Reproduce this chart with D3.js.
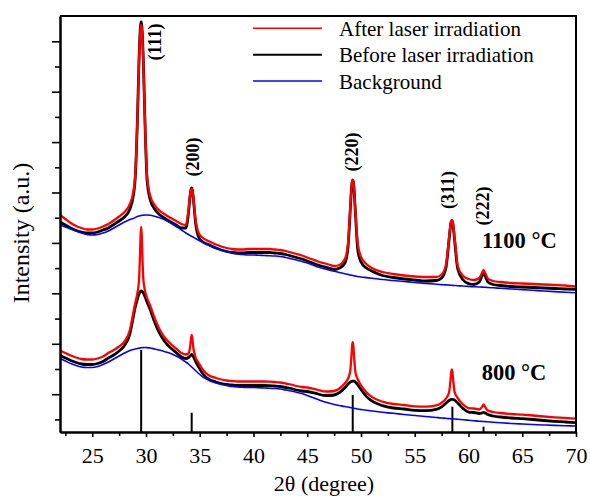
<!DOCTYPE html>
<html><head><meta charset="utf-8">
<script src="https://cdn.jsdelivr.net/npm/d3@7"></script>
<style>body{margin:0;background:#fff}svg{display:block}text{font-family:"Liberation Serif","Times New Roman",serif}</style>
</head><body>
<script>
// 2θ grid (degree)
const theta = [22,22.5,23,23.5,24,24.5,25,25.5,26,26.5,27,27.5,28,28.5,
 28.8,29.0,29.2,29.35,29.45,29.5,29.55,29.6,29.65,29.75,29.9,30.1,30.4,30.8,31.2,31.7,32.3,32.8,33.3,33.7,
 33.95,34.1,34.2,34.25,34.3,34.4,34.6,34.9,35.3,35.8,
 36.5,37,37.5,38,38.5,39,39.5,40,40.5,41,41.5,42,42.5,43,43.5,44,44.5,45,45.5,46,46.5,47,47.5,48,
 48.5,48.8,49.0,49.12,49.18,49.23,49.29,49.35,49.5,49.7,50.0,50.5,51,
 52,53,54,55,56,57,
 57.5,57.9,58.2,58.35,58.4,58.45,58.5,58.55,58.7,59.0,59.5,60,60.5,61,
 61.25,61.4,61.55,61.8,62.3,
 63,64,65,66,67,68,69,70];

// 1100 °C
const background1100 = [207,205,203,201,199,197.5,197,197.5,199,201,204,207,210,212.5,
 213.5,214.5,215.5,216,216.3,216.4,216.5,216.6,216.7,216.8,217,217,216.7,215.7,214.5,212.5,209,205.5,202,199,
 197.5,196.5,196,195.7,195.4,194.8,193.5,191.7,189.5,187,
 184,182,180.5,179,178,177.5,177,177,176.7,176.5,176.3,176,175.5,174.5,173.3,172,170.5,169,167,165,163.5,162,160.7,159.5,
 158.3,157.6,157,156.8,156.6,156.5,156.3,156.2,155.9,155.5,155,154.4,153.8,
 152.5,151.5,150.5,149.5,148.6,147.8,
 147.4,147.1,146.9,146.8,146.75,146.7,146.65,146.6,146.5,146.3,146,145.6,145.3,145,
 144.9,144.8,144.7,144.5,144.2,
 143.7,143,142.4,141.7,141,140.4,139.8,139.3];
const before1100 = [210,207,204,201.5,200,199,199,200,202,204,207.5,211,215,223,
 235,254,312,372,400,407,410,407,400,372,312,252,232,223,218,214,210,207,204,204,
 219,236,243,244,242.5,234,210,195,190,187.5,
 184,182,180.5,179.5,179,179,179.5,179.5,179.5,179.5,179.5,179,178.5,177.5,176,174.5,173,171,169,167,165.5,164,162.5,164,
 169,186,222,244,250,252,250,243,215,182,170,164,161,
 156.5,154.5,153,152,151,151.5,
 154,164,193,208,210.5,211,210.5,208,192.5,163,152,148.5,147.5,150,
 156,159.5,156,150,147.5,
 146.5,145.5,145,144.5,144,143.5,143,142.7];
const after1100 = [217,213,209,206,204,202.5,202.5,203.5,205.5,208,211.5,215.5,220,228,
 239,257,312,370,397,404,407,404,397,370,312,256,236,227,222,218,214,211,208,207,
 222,237,242,243,242,235,213,199,194,191,
 187.5,185.5,184,183,182.5,182.5,183,183,183,183,183,182.5,182,181,179.5,178,176.5,174.5,172.5,170.5,169,167.5,166,167,
 173,189,224,245,251,252,250.5,244,217,188,175,168,164,
 160,158,156.5,155.5,155,155,
 157.5,167,195,209,211,212,211,209,195,166,156,153,152,154,
 159,162,159,153.5,151,
 150,149,148.5,148,147.5,147,146.5,145.5];

// 800 °C
const background800 = [73.5,71,68.5,66.5,65,64.5,64.5,65.5,67.5,70,73,76,79,81.5,
 82.5,83,83.5,83.8,84,84.1,84.2,84.25,84.3,84.4,84.5,84.4,84,83,82,80.5,78.5,76,73,70,
 68,66.5,65.5,65,64.5,63.5,61.5,58.5,55,52,
 49,47.5,46.5,45.5,45,44.7,44.5,44.5,44.3,44,43.8,43.5,43,42,41,39.7,38.5,36.5,34.5,32.5,30.5,29,27.5,26.5,
 25.5,25,24.5,24.3,24.15,24,23.9,23.8,23.5,23,22.5,21.7,21,
 19.7,18.7,17.5,16.5,15.5,14.5,
 14,13.7,13.4,13.3,13.25,13.2,13.15,13.1,13,12.7,12.3,11.8,11.3,10.8,
 10.6,10.5,10.4,10.2,9.8,
 9.2,8.5,8,7.5,7,6.6,6.3,6];
const before800 = [76.5,74,71.5,69.5,68,67.5,67.5,68.5,70.5,74,77,81,86.5,98,
 114,125,133,138,140,140.7,141,140.8,140.4,139,135.5,130,122,110,100,91,84,79.5,75,73.5,
 74.5,76,77,77.5,77,75.5,71,65,58,53,
 50,48.5,47.5,47,46.5,46.5,46.5,46.5,46.5,46.5,46.3,46,45.5,44.5,43.5,42,41,40.5,39.4,38,36.7,36.5,37,39.5,
 44.2,48,49.8,50.5,50.8,50.9,50.9,50.8,49.8,47.2,42.6,35.6,31.1,
 26.3,24,23,21.7,21.3,22.6,
 25.2,28.8,31.5,32.4,32.6,32.7,32.7,32.5,31.9,28.9,23.5,19.9,19.5,18.5,
 19,19.5,19,17.5,16,
 15,14,13.3,12.5,11.5,10.7,10,9.3];
const after800 = [81.5,79,76.5,74.5,73,72.5,72.5,73.5,75.5,79,82,85.5,90.5,102,
 118,129,139,152,180,197.7,205,197.8,180.4,153,141.5,134,126,114,104,95,88,83.5,79,77.5,
 78.5,85,94.7,97,94.7,84.5,75,69,62,57,
 54,52.5,51.5,51,50.5,50.5,50.5,50.5,50.5,50.5,50.3,50,49.5,48.5,47.5,46,45,44.5,43.4,42,40.7,40.5,41,43.5,
 48.7,53.5,61.3,77.5,86.8,89.9,85.9,76,58.6,52.7,46.6,39.6,35.1,
 30.3,28,27,25.7,25.3,26.6,
 29.2,33.3,40,54.8,60.4,62.7,60.5,54.9,40.4,33.9,27.5,23.9,23.5,22.5,
 25,27.5,25,21.5,20,
 19,18,17.3,16.5,15.5,14.7,14,13.3];

// reference pattern (sticks)
const stickTheta = [29.55,34.25,49.23,58.5,61.4];
const stickIntensity = [82,19.3,37,25.3,5.3];

// annotations
const peakLabels = ["(111)","(200)","(220)","(311)","(222)"];
const peakLabelTheta = [31.4,34.93,49.72,58.65,61.91];
const peakLabelInt = [390,275,280,242,226];
const tempLabels = ["1100 °C","800 °C"];
const tempLabelTheta = [61.26,61.23];
const tempLabelInt = [184.5,52];

const legendNames = ["After laser irradiation","Before laser irradiation","Background"];
const legendColors = ["#ff0000","#000000","#0000ff"];

const xMajor = [25,30,35,40,45,50,55,60,65,70];
const xMinor = [22.5,27.5,32.5,37.5,42.5,47.5,52.5,57.5,62.5,67.5];
const yMajor = [37.8,88.2,138.7,189.1,239.5,289.9,340.3,390.7];
const yMinor = [12.6,63,113.4,163.9,214.3,264.7,315.1,365.5];

const W = 590, H = 501;
const m = {l:60, r:14, t:16, b:69};
const font = "Liberation Serif, Times New Roman, serif";

const svg = d3.select("body").append("svg").attr("width",W).attr("height",H)
  .attr("font-family", font);
svg.append("rect").attr("width",W).attr("height",H).attr("fill","#fff");

const x = d3.scaleLinear().domain([22,70]).range([m.l, W-m.r]);
const y = d3.scaleLinear().domain([0,416]).range([H-m.b, m.t]);

svg.append("clipPath").attr("id","clip").append("rect")
  .attr("x",m.l).attr("y",m.t).attr("width",W-m.l-m.r).attr("height",H-m.t-m.b);
const plot = svg.append("g").attr("clip-path","url(#clip)");

// sticks
plot.selectAll("line.stick").data(d3.zip(stickTheta, stickIntensity)).join("line")
  .attr("x1",d=>x(d[0])).attr("x2",d=>x(d[0]))
  .attr("y1",y(0)).attr("y2",d=>y(d[1]))
  .attr("stroke","#000").attr("stroke-width",2);

const line = d3.line().x(d=>x(d[0])).y(d=>y(d[1])).curve(d3.curveMonotoneX);
const series = [
  [before1100,"#000000",2.8],[after1100,"#ff0000",2.3],[background1100,"#0000ff",1.6],
  [before800,"#000000",2.8],[after800,"#ff0000",2.3],[background800,"#0000ff",1.6]
];
series.forEach(([vals,col,w])=>{
  plot.append("path").datum(d3.zip(theta, vals)).attr("d",line)
    .attr("fill","none").attr("stroke",col).attr("stroke-width",w)
    .attr("stroke-linejoin","round");
});

// axes
const xAxisG = svg.append("g").attr("transform",`translate(0,${H-m.b})`);
xAxisG.append("g").call(d3.axisBottom(x).tickValues(xMinor).tickSize(4).tickSizeOuter(0).tickFormat(""));
xAxisG.append("g").call(d3.axisBottom(x).tickValues(xMajor).tickSize(5).tickSizeOuter(0).tickPadding(10).tickFormat(d3.format("d")));
xAxisG.selectAll("g").attr("font-family",font);
xAxisG.selectAll("path.domain").attr("stroke-width",2);
xAxisG.selectAll(".tick line").attr("stroke-width",1.6);
xAxisG.selectAll(".tick text").attr("font-size",22).attr("font-family",font).attr("fill","#000");

const yAxisG = svg.append("g").attr("transform",`translate(${m.l},0)`);
yAxisG.append("g").call(d3.axisLeft(y).tickValues(yMinor).tickSize(5).tickSizeOuter(0).tickFormat(""));
yAxisG.append("g").call(d3.axisLeft(y).tickValues(yMajor).tickSize(8).tickSizeOuter(0).tickFormat(""));
yAxisG.selectAll("path.domain").attr("stroke-width",2);
yAxisG.selectAll(".tick line").attr("stroke-width",1.6);

// frame top/right
svg.append("path").attr("d",`M${m.l},${m.t}H${W-m.r}V${H-m.b}`)
  .attr("fill","none").attr("stroke","#000").attr("stroke-width",2);

// axis titles
svg.append("text").attr("x",(m.l+W-m.r)/2+6).attr("y",491).attr("text-anchor","middle")
  .attr("font-family",font).attr("font-size",22).text("2θ (degree)");
svg.append("text").attr("transform","translate(29,233) rotate(-90)").attr("text-anchor","middle")
  .attr("font-family",font).attr("font-size",24).text("Intensity (a.u.)");

// peak labels
svg.selectAll("text.peak").data(d3.zip(peakLabels, peakLabelTheta, peakLabelInt)).join("text")
  .attr("transform",d=>`translate(${x(d[1])},${y(d[2])}) rotate(-90)`)
  .attr("font-family",font)
  .attr("text-anchor","middle").attr("font-weight","bold").attr("font-size",18).text(d=>d[0]);

svg.selectAll("text.temp").data(d3.zip(tempLabels, tempLabelTheta, tempLabelInt)).join("text")
  .attr("x",d=>x(d[1])).attr("y",d=>y(d[2])).attr("font-family",font)
  .attr("font-weight","bold").attr("font-size",22.5).text(d=>d[0]);

// legend
const lg = svg.append("g");
legendNames.forEach((name,i)=>{
  const yy = 28.3 + i*26.4;
  lg.append("line").attr("x1",253).attr("x2",322).attr("y1",yy).attr("y2",yy)
    .attr("stroke",legendColors[i]).attr("stroke-width", i===1?2:1.5);
  lg.append("text").attr("x",339).attr("y",yy+7.5).attr("font-family",font)
    .attr("font-size",21).text(name);
});
</script>
</body></html>
